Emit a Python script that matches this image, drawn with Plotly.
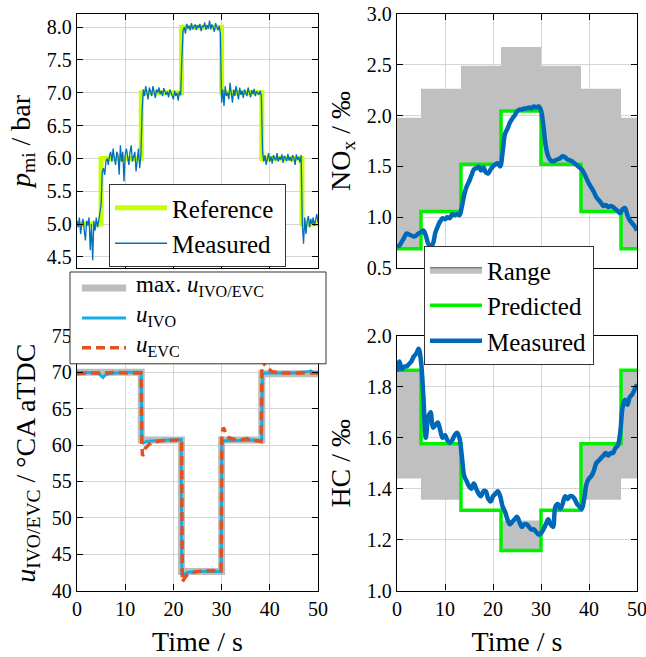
import numpy as np
import plotly.graph_objects as go

# ---------------- data ----------------
step_edges = [0, 5, 13.33, 21.67, 30, 38.33, 46.67, 50]

pmi_reference = [5, 6, 7, 8, 7, 6, 5]
pmi_measured = [
    5.05, 4.95, 5.1, 4.85, 5.0, 5.08, 4.9, 4.75, 5.05, 4.98, 5.1, 4.6, 5.0, 4.45, 5.05, 4.9, 5.1, 4.95, 5.05, 5.15,
    5.3, 5.8, 5.85, 5.75, 5.95, 6.0, 5.9, 6.05, 6.1, 5.95, 6.15, 6.0, 5.9, 6.1, 6.05, 5.75, 6.2, 5.95, 6.1, 5.65,
    6.05, 6.15, 6.0, 5.9, 6.1, 6.2, 5.95, 6.05, 6.1, 5.8, 6.0, 6.15, 5.85, 6.05,
    6.7, 7.05, 6.95, 7.1, 7.0, 6.9, 7.08, 7.02, 6.95, 7.1, 7.0, 6.92, 7.05, 7.0, 7.08, 6.98, 7.03, 6.95, 7.07, 7.0,
    6.97, 7.02, 6.93, 7.05, 7.0, 6.97, 6.9, 7.03, 6.95, 7.0, 6.88, 7.02, 6.96,
    7.5, 7.95, 8.0, 7.9, 8.05, 7.98, 8.02, 7.95, 8.06, 7.97, 8.0, 8.04, 7.96, 8.03, 7.99, 8.05, 7.94, 8.02, 8.0, 8.07,
    7.96, 8.03, 7.98, 8.1, 7.97, 8.04, 8.0, 7.93, 8.06, 8.0, 7.95, 8.02, 7.9,
    6.85, 7.05, 6.8, 7.1, 6.95, 7.0, 6.9, 7.15, 7.0, 6.85, 7.05, 6.95, 7.1, 7.0, 6.9, 7.08, 6.97, 7.03, 6.92, 7.05,
    7.0, 6.95, 7.08, 7.0, 6.93, 7.04, 6.98, 7.06, 6.95, 7.02, 7.0, 6.97, 7.03, 6.95,
    6.1, 5.95, 6.05, 5.9, 6.0, 6.08, 5.95, 6.03, 5.92, 6.05, 6.0, 5.97, 6.08, 5.95, 6.02, 5.98, 6.06, 5.93, 6.04, 6.0,
    5.96, 6.07, 5.97, 6.02, 5.95, 6.05, 6.0, 5.9, 6.06, 5.98, 6.02, 5.94, 6.05,
    5.0, 4.7, 5.1, 4.85, 5.05, 5.12, 4.95, 5.08, 5.0, 5.1, 4.97, 5.05, 5.15, 5.02,
]
time_pmi = np.linspace(0, 50, len(pmi_measured))

nox_predicted = [0.69, 1.055, 1.52, 2.045, 1.52, 1.055, 0.69]
nox_range_low = [0.69, 1.055, 1.52, 2.045, 1.52, 1.055, 0.69]
nox_range_high = [1.98, 2.265, 2.49, 2.675, 2.49, 2.265, 1.98]
nox_measured = [
    0.71, 0.72, 0.76, 0.80, 0.84, 0.83, 0.82, 0.81, 0.82, 0.84,
    0.85, 0.87, 0.82, 0.74, 0.71, 0.74, 0.85, 0.91, 0.96, 0.99,
    0.98, 1.00, 0.99, 1.03, 1.02, 1.03, 1.02, 1.10, 1.22, 1.30,
    1.35, 1.41, 1.47, 1.48, 1.50, 1.46, 1.49, 1.44, 1.43, 1.47,
    1.50, 1.52, 1.53, 1.50, 1.64, 1.82, 1.87, 1.93, 1.97, 2.00,
    2.04, 2.06, 2.06, 2.07, 2.07, 2.08, 2.07, 2.09, 2.08, 2.09,
    2.05, 1.90, 1.70, 1.60, 1.56, 1.55, 1.56, 1.57, 1.58, 1.60,
    1.59, 1.57, 1.56, 1.55, 1.53, 1.51, 1.49, 1.47, 1.43, 1.38,
    1.33, 1.29, 1.25, 1.20, 1.17, 1.14, 1.11, 1.12, 1.10, 1.11,
    1.10, 1.08, 1.06, 1.04, 1.08, 1.09, 1.02, 0.97, 0.94, 0.91,
    0.87,
]
time_nox = np.linspace(0, 50, len(nox_measured))

hc_predicted = [1.865, 1.577, 1.315, 1.157, 1.315, 1.577, 1.865]
hc_range_low = [1.44, 1.357, 1.315, 1.157, 1.315, 1.357, 1.44]
hc_range_high = [1.865, 1.577, 1.315, 1.275, 1.315, 1.577, 1.865]
hc_measured = [
    1.86, 1.90, 1.87, 1.88, 1.88, 1.89, 1.90, 1.92, 1.93, 1.95,
    1.90, 1.76, 1.60, 1.68, 1.70, 1.64, 1.65, 1.66, 1.63, 1.60,
    1.61, 1.59, 1.58, 1.59, 1.61, 1.62, 1.60, 1.53, 1.45, 1.43,
    1.41, 1.40, 1.42, 1.40, 1.38, 1.37, 1.39, 1.39, 1.36, 1.35,
    1.37, 1.38, 1.39, 1.37, 1.33, 1.31, 1.28, 1.26, 1.27, 1.28,
    1.29, 1.27, 1.25, 1.26, 1.26, 1.25, 1.24, 1.24, 1.23, 1.22,
    1.225, 1.24, 1.26, 1.28, 1.26, 1.25, 1.33, 1.34, 1.32, 1.34,
    1.37, 1.36, 1.37, 1.37, 1.36, 1.34, 1.33, 1.32, 1.36, 1.42,
    1.44, 1.45, 1.47, 1.50, 1.51, 1.52, 1.53, 1.54, 1.53, 1.54,
    1.54, 1.56, 1.57, 1.62, 1.72, 1.75, 1.73, 1.76, 1.77, 1.79,
    1.81,
]
time_hc = np.linspace(0, 50, len(hc_measured))

u_max_edges = [0, 13.33, 21.67, 30, 38.33, 50]
u_max = [70.0, 60.7, 42.6, 60.7, 69.8]

t_ivo = [0, 2, 4.5, 5.0, 5.4, 5.8, 6.5, 8, 10, 13.3, 13.45, 13.8, 14.5, 16, 18, 21.6, 21.75, 22.2, 23, 25,
         29.9, 30.05, 30.5, 32, 35, 38.3, 38.45, 39, 42, 45, 48, 48.5, 49, 50]
u_ivo = [70.0, 70.0, 69.9, 69.5, 69.3, 69.6, 69.8, 69.9, 70.0, 70.0, 60.5, 60.3, 60.5, 60.6, 60.7, 60.8, 42.3,
         42.2, 42.5, 42.6, 42.6, 60.4, 60.6, 60.6, 60.7, 60.7, 69.8, 69.9, 69.9, 69.9, 70.1, 70.2, 69.9, 69.9]

t_evc = [0, 2, 5, 8, 10, 13.3, 13.45, 13.6, 13.8, 14.2, 15, 16, 17.5, 19, 21.5, 21.7, 21.85, 22.1, 22.6, 23.5,
         25, 27, 29.9, 30.05, 30.35, 30.8, 31.5, 32.5, 34, 35.3, 36, 38.2, 38.35, 38.55, 39, 39.7, 40.5, 42, 45, 50]
u_evc = [69.8, 69.9, 69.9, 70.0, 69.9, 69.9, 60.0, 58.5, 58.8, 59.6, 60.1, 60.4, 60.6, 60.6, 60.7, 60.7, 41.2,
         41.5, 42.0, 42.4, 42.6, 42.7, 42.7, 61.5, 62.4, 61.8, 61.0, 60.8, 60.7, 60.9, 60.7, 60.5, 70.5, 71.6,
         71.0, 70.5, 70.1, 69.9, 69.9, 69.9]

u_legend_labels = ["max. <i>u</i><sub>IVO/EVC</sub>", "<i>u</i><sub>IVO</sub>", "<i>u</i><sub>EVC</sub>"]


def stepped(vals):
    return list(vals) + [vals[-1]]


# ---------------- style ----------------
FONT = "Liberation Serif"
W, H = 646, 657
C_REF = "#c6ff00"
C_PMI = "#0070bb"
C_RANGE = "#c0c0c0"
C_PRED = "#00f000"
C_MEAS = "#0068b8"
C_MAX = "#bdbdbd"
C_IVO = "#14aee8"
C_EVC = "#e0531f"
EVC_DASH = "9px,5px"

fig = go.Figure()

# Top-left: pmi
fig.add_trace(go.Scatter(x=step_edges, y=stepped(pmi_reference), mode="lines", line_shape="hv",
                         line=dict(color=C_REF, width=5), name="Reference\u00a0",
                         xaxis="x", yaxis="y", legend="legend"))
fig.add_trace(go.Scatter(x=time_pmi, y=pmi_measured, mode="lines",
                         line=dict(color=C_PMI, width=1.3), name="Measured",
                         xaxis="x", yaxis="y", legend="legend"))

# Top-right: NOx
fig.add_trace(go.Scatter(x=step_edges, y=stepped(nox_range_low), mode="lines", line_shape="hv",
                         line=dict(width=0, color=C_RANGE), showlegend=False,
                         xaxis="x2", yaxis="y2", hoverinfo="skip"))
fig.add_trace(go.Scatter(x=step_edges, y=stepped(nox_range_high), mode="lines", line_shape="hv",
                         line=dict(width=0, color=C_RANGE), fill="tonexty", fillcolor=C_RANGE,
                         showlegend=False, xaxis="x2", yaxis="y2"))
fig.add_trace(go.Scatter(x=[None], y=[None], mode="lines", fill="toself", fillcolor=C_RANGE,
                         line=dict(color="#555555", width=1), name="Range",
                         xaxis="x2", yaxis="y2", legend="legend2"))
fig.add_trace(go.Scatter(x=step_edges, y=stepped(nox_predicted), mode="lines", line_shape="hv",
                         line=dict(color=C_PRED, width=3.5), name="Predicted\u00a0",
                         xaxis="x2", yaxis="y2", legend="legend2"))
fig.add_trace(go.Scatter(x=time_nox, y=nox_measured, mode="lines", line_shape="spline",
                         line=dict(color=C_MEAS, width=4.5), name="Measured",
                         xaxis="x2", yaxis="y2", legend="legend2"))

# Bottom-left: u
fig.add_trace(go.Scatter(x=u_max_edges, y=stepped(u_max), mode="lines", line_shape="hv",
                         line=dict(color=C_MAX, width=7), name=u_legend_labels[0], showlegend=False,
                         xaxis="x3", yaxis="y3"))
fig.add_trace(go.Scatter(x=t_ivo, y=u_ivo, mode="lines",
                         line=dict(color=C_IVO, width=3), name=u_legend_labels[1], showlegend=False,
                         xaxis="x3", yaxis="y3"))
fig.add_trace(go.Scatter(x=t_evc, y=u_evc, mode="lines",
                         line=dict(color=C_EVC, width=3.5, dash=EVC_DASH), name=u_legend_labels[2],
                         showlegend=False, xaxis="x3", yaxis="y3"))

# Bottom-right: HC
fig.add_trace(go.Scatter(x=step_edges, y=stepped(hc_range_low), mode="lines", line_shape="hv",
                         line=dict(width=0, color=C_RANGE), showlegend=False,
                         xaxis="x4", yaxis="y4"))
fig.add_trace(go.Scatter(x=step_edges, y=stepped(hc_range_high), mode="lines", line_shape="hv",
                         line=dict(width=0, color=C_RANGE), fill="tonexty", fillcolor=C_RANGE,
                         showlegend=False, xaxis="x4", yaxis="y4"))
fig.add_trace(go.Scatter(x=step_edges, y=stepped(hc_predicted), mode="lines", line_shape="hv",
                         line=dict(color=C_PRED, width=3.5), showlegend=False,
                         xaxis="x4", yaxis="y4"))
fig.add_trace(go.Scatter(x=time_hc, y=hc_measured, mode="lines", line_shape="spline",
                         line=dict(color=C_MEAS, width=4.5), showlegend=False,
                         xaxis="x4", yaxis="y4"))

xl = [77 / W, 318 / W]
xr = [397 / W, 637 / W]
yt = [1 - 268 / H, 1 - 14 / H]
yb = [1 - 590.5 / H, 1 - 336 / H]

axis_common = dict(showline=True, linecolor="black", linewidth=1.3, mirror="ticks",
                   ticks="inside", ticklen=6, tickwidth=1.3, tickcolor="black",
                   showgrid=True, gridcolor="#d6d6d6", gridwidth=1, zeroline=False,
                   tickfont=dict(family=FONT, size=20, color="black"), automargin=False,
                   ticklabeloverflow="allow")
title_font = dict(family=FONT, size=28, color="black")


def xax(domain, anchor, labels):
    d = dict(axis_common, domain=domain, anchor=anchor, range=[0, 50], dtick=10, tick0=0,
             showticklabels=labels)
    if labels:
        d["title"] = dict(text="Time / s", font=title_font, standoff=12)
    return d


def yax(domain, anchor, rng, dtick, fmt, title, standoff):
    return dict(axis_common, domain=domain, anchor=anchor, range=rng, dtick=dtick, tick0=0,
                tickformat=fmt, title=dict(text=title, font=title_font, standoff=standoff))


legend_common = dict(bgcolor="white", bordercolor="#333333", borderwidth=1,
                     font=dict(family=FONT, size=25, color="black"),
                     xanchor="left", yanchor="top", itemwidth=52, tracegroupgap=0,
                     traceorder="normal")

# Manual legend for the bottom-left panel (tighter rows, as in the reference)
px = lambda v: v / W
py = lambda v: 1 - v / H
LEG3_FONT = 23
row_gap = 1.3 * LEG3_FONT
leg_rows = [288, 288 + row_gap, 288 + 2 * row_gap]
shapes = [
    dict(type="rect", xref="paper", yref="paper", x0=px(70), x1=px(326), y0=py(leg_rows[-1] + 16), y1=py(272),
         fillcolor="white", line=dict(color="#333333", width=1), layer="above"),
]
leg_styles = [dict(color=C_MAX, width=7), dict(color=C_IVO, width=3), dict(color=C_EVC, width=3.5, dash=EVC_DASH)]
for yy, st in zip(leg_rows, leg_styles):
    shapes.append(dict(type="line", xref="paper", yref="paper", x0=px(82), x1=px(126), y0=py(yy), y1=py(yy),
                       line=st, layer="above"))
annotations = [dict(text="<br>".join(u_legend_labels), xref="paper", yref="paper", x=px(134),
                    y=py(leg_rows[1] - 2), xanchor="left", yanchor="middle", align="left", showarrow=False,
                    font=dict(family=FONT, size=LEG3_FONT, color="black"))]

fig.update_layout(
    width=W, height=H,
    margin=dict(l=0, r=0, t=0, b=0),
    paper_bgcolor="white", plot_bgcolor="white",
    font=dict(family=FONT, color="black"),
    xaxis=xax(xl, "y", False),
    yaxis=yax(yt, "x", [4.33, 8.2], 0.5, ".1f", "<i>p</i><sub>mi</sub> / bar", 8),
    xaxis2=xax(xr, "y2", False),
    yaxis2=yax(yt, "x2", [0.5, 3.0], 0.5, ".1f", "NO<sub>x</sub> / ‰", 8),
    xaxis3=xax(xl, "y3", True),
    yaxis3=yax(yb, "x3", [40, 75], 5, "d", "<i>u</i><sub>IVO/EVC</sub> / °CA aTDC", 8),
    xaxis4=xax(xr, "y4", True),
    yaxis4=yax(yb, "x4", [1.0, 2.0], 0.2, ".1f", "HC / ‰", 8),
    legend=dict(legend_common, x=109 / W, y=1 - 184 / H),
    legend2=dict(legend_common, x=424 / W, y=1 - 246 / H),
    shapes=shapes,
    annotations=annotations,
    showlegend=True,
)

fig.write_html("out.html")
